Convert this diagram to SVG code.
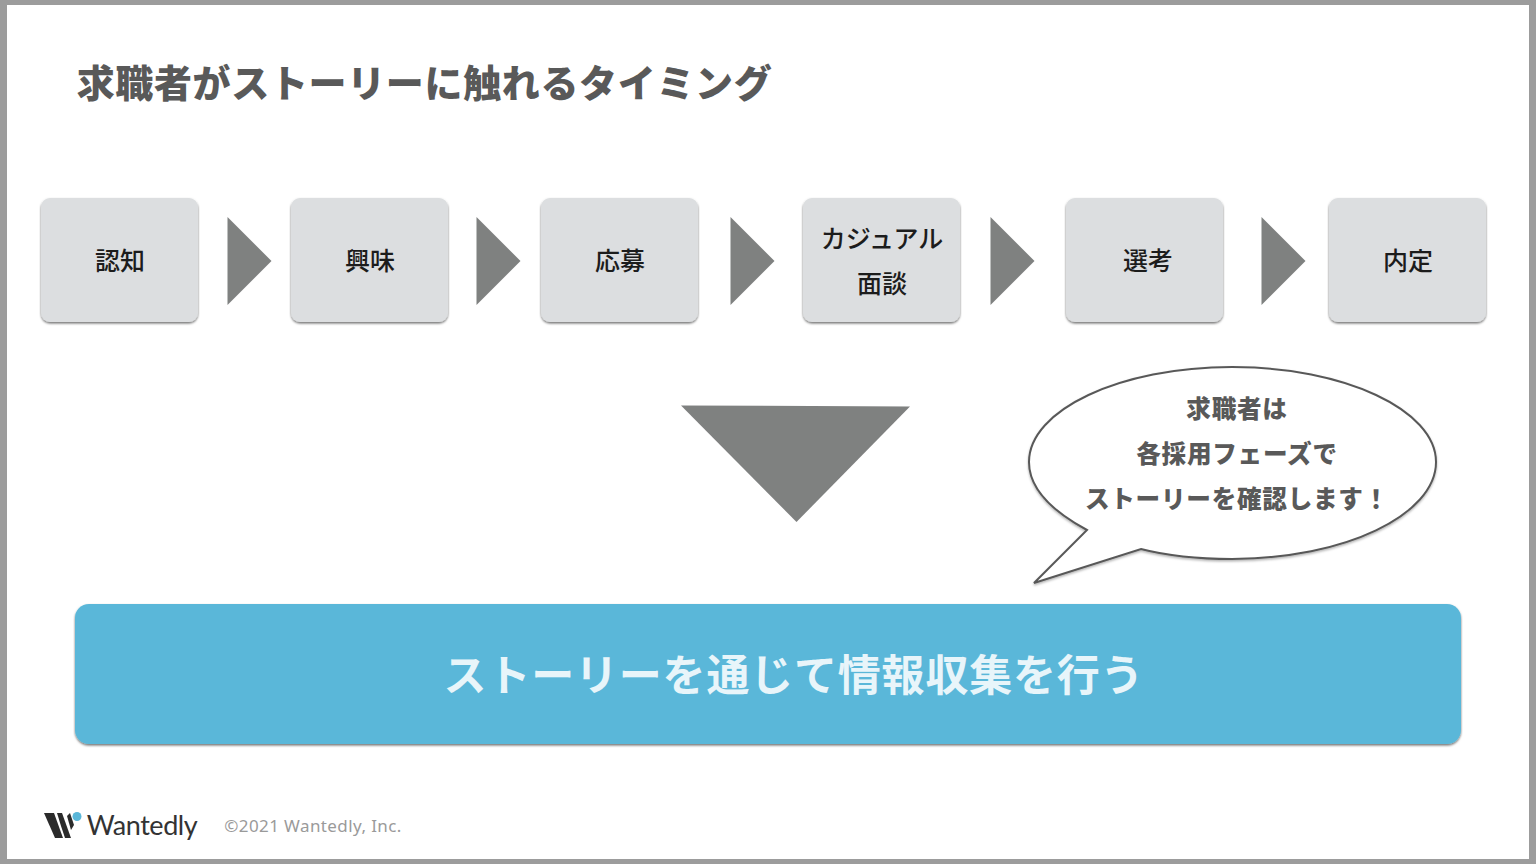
<svg xmlns="http://www.w3.org/2000/svg" width="1536" height="864" viewBox="0 0 1536 864">
<defs>
<filter id="sh" x="-10%" y="-10%" width="120%" height="125%"><feDropShadow dx="0" dy="1.5" stdDeviation="1.2" flood-color="#000" flood-opacity="0.55"/></filter>
<filter id="sh2" x="-5%" y="-5%" width="110%" height="115%"><feDropShadow dx="0" dy="1.5" stdDeviation="1.2" flood-color="#000" flood-opacity="0.3"/></filter>
</defs>
<style>
text{font-family:"Noto Sans CJK JP","Noto Sans",sans-serif;text-anchor:middle}
.box{fill:#dcdee0;filter:url(#sh)}
.lb{font-size:25px;font-weight:500;fill:#1c1c1c}
.arr{fill:#7f8180}
.bub{font-size:24.6px;font-weight:900;fill:#595959;letter-spacing:.75px}
</style>
<rect width="1536" height="864" fill="#9c9c9c"/>
<rect x="7" y="5" width="1522" height="854" fill="#fff"/>
<text x="424.5" y="97" font-size="38" font-weight="900" fill="#595959" style="letter-spacing:.65px">求職者がストーリーに触れるタイミング</text>
<g id="connectors">
<polygon class="arr" points="227.500,217 271.500,261 227.500,305"/>
<polygon class="arr" points="476.500,217 520.500,261 476.500,305"/>
<polygon class="arr" points="730.500,217 774.500,261 730.500,305"/>
<polygon class="arr" points="990.500,217 1034.500,261 990.500,305"/>
<polygon class="arr" points="1261.500,217 1305.500,261 1261.500,305"/>
<polygon class="arr" points="681,405.500 910,406.500 796.500,522"/>
</g>
<g id="n1"><rect class="box" x="41" y="198" width="157" height="124" rx="9"/><text class="lb" x="120" y="270">認知</text></g>
<g id="n2"><rect class="box" x="291" y="198" width="157" height="124" rx="9"/><text class="lb" x="370" y="270">興味</text></g>
<g id="n3"><rect class="box" x="541" y="198" width="157" height="124" rx="9"/><text class="lb" x="620" y="270">応募</text></g>
<g id="n4"><rect class="box" x="803" y="198" width="157" height="124" rx="9"/><text class="lb" x="882" y="248">カジュアル</text><text class="lb" x="882" y="293">面談</text></g>
<g id="n5"><rect class="box" x="1066" y="198" width="157" height="124" rx="9"/><text class="lb" x="1148" y="270">選考</text></g>
<g id="n6"><rect class="box" x="1329" y="198" width="157" height="124" rx="9"/><text class="lb" x="1408" y="270">内定</text></g>
<g id="bubble">
<path d="M1087,530 C1050,510 1029,488 1029,462 C1029,410 1120,367 1232,367 C1344,367 1436,410 1436,462 C1436,515 1344,559 1232,559 C1197,559 1168,556 1141,549 L1034,583 Z" fill="#fff" stroke="#595959" stroke-width="2" filter="url(#sh2)"/>
<text class="bub" x="1237" y="418">求職者は</text>
<text class="bub" x="1237" y="463">各採用フェーズで</text>
<text class="bub" x="1237" y="508">ストーリーを確認します！</text>
</g>
<g id="banner">
<rect x="75" y="604" width="1386" height="140" rx="14" fill="#5ab7d9" filter="url(#sh)"/>
<text x="794" y="691" font-size="43" font-weight="700" fill="#e8f5fa" style="letter-spacing:.8px">ストーリーを通じて情報収集を行う</text>
</g>
<g id="logo">
<polygon points="44,813 54,813 63,838 55,838" fill="#2b2b2b"/>
<polygon points="57,813 62,813 71,838 65,838 61,826" fill="#2b2b2b"/>
<polygon points="67,816 70,813 74,825 71,830" fill="#2b2b2b"/>
<circle cx="77" cy="816.500" r="4.500" fill="#5ab7d9"/>
<text x="142" y="835" font-size="27" fill="#333" style="font-family:Lato,sans-serif;letter-spacing:-.45px">Wantedly</text>
</g>
<text x="313" y="832" font-size="17" fill="#9a9a9a" style="font-family:'Noto Sans',sans-serif;letter-spacing:.4px">©2021 Wantedly, Inc.</text>
</svg>
